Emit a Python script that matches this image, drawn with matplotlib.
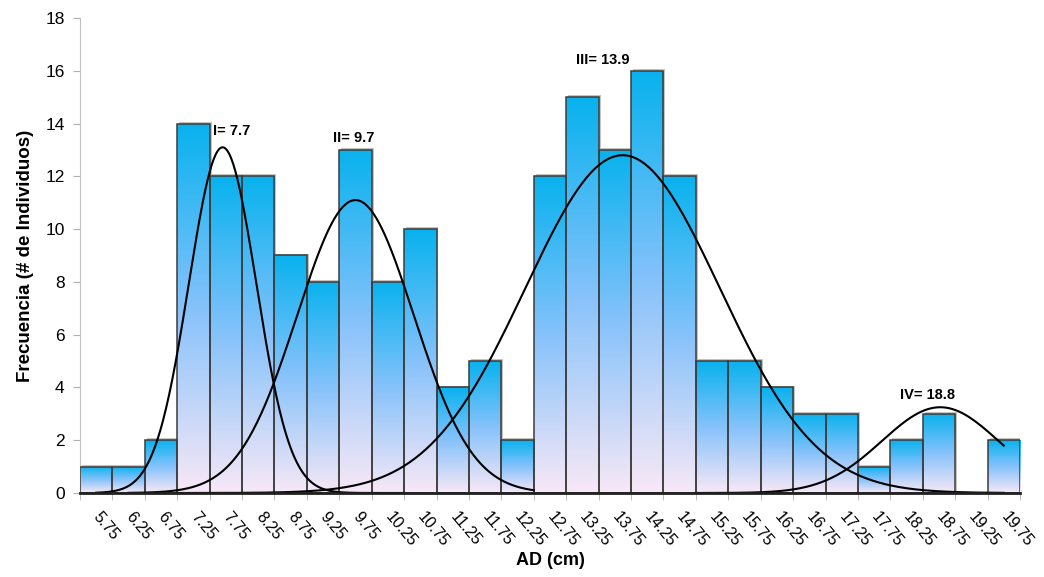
import numpy as np
import matplotlib
matplotlib.use("Agg")
import matplotlib.pyplot as plt
from matplotlib.colors import LinearSegmentedColormap
from matplotlib.patches import Rectangle

plt.rcParams["font.family"] = ["Liberation Sans", "DejaVu Sans"]

### Data ###
centers = [5.75, 6.25, 6.75, 7.25, 7.75, 8.25, 8.75, 9.25, 9.75, 10.25,
           10.75, 11.25, 11.75, 12.25, 12.75, 13.25, 13.75, 14.25, 14.75,
           15.25, 15.75, 16.25, 16.75, 17.25, 17.75, 18.25, 18.75, 19.25, 19.75]
counts = [1, 1, 2, 14, 12, 12, 9, 8, 13, 8, 10, 4, 5, 2, 12, 15, 13, 16, 12,
          5, 5, 4, 3, 3, 1, 2, 3, 0, 2]
tick_labels = ["5.75", "6.25", "6.75", "7.25", "7.75", "8.25", "8.75", "9.25",
               "9.75", "10.25", "10.75", "11.25", "11.75", "12.25", "12.75",
               "13.25", "13.75", "14.25", "14.75", "15.25", "15.75", "16.25",
               "16.75", "17.25", "17.75", "18.25", "18.75", "19.25", "19.75"]

# fitted normal components (mean, sd, peak height, x range drawn)
comp_names = ["I= 7.7", "II= 9.7", "III= 13.9", "IV= 18.8"]
comp_mean = [7.7, 9.75, 13.87, 18.77]
comp_sd = [0.52, 0.9, 1.5, 0.9]
comp_peak = [13.1, 11.1, 12.8, 3.25]
comp_start = [5.75, 6.25, 7.0, 15.0]
comp_end = [10.5, 12.5, 19.75, 19.75]
label_xy = [(7.55, 13.45), (9.4, 13.2), (13.15, 16.15), (18.15, 3.45)]

width = 0.5

#%%
fig = plt.figure(figsize=(10.44, 5.77), dpi=100)
ax = fig.add_axes([0.0766, 0.1456, 0.9004, 0.8232])

cmap = LinearSegmentedColormap.from_list(
    "bar", [(0.0, "#f8e8f6"), (0.5, "#86c2fb"), (1.0, "#08b2ee")])
grad = np.linspace(0, 1, 256).reshape(-1, 1)

for c, h in zip(centers, counts):
    if h == 0:
        continue
    x0 = c - width / 2
    # light shadow
    ax.add_patch(Rectangle((x0 + 0.03, 0), width, h + 0.07, facecolor="#c8c2bc",
                           edgecolor="none", zorder=1))
    im = ax.imshow(grad, cmap=cmap, origin="lower", aspect="auto",
                   extent=(x0, x0 + width, 0, h), zorder=2)
    rect = Rectangle((x0, 0), width, h, facecolor="none", edgecolor="#3c3c3c",
                     linewidth=1.1, zorder=3)
    ax.add_patch(rect)
    im.set_clip_path(rect)

for m, s, p, a, b in zip(comp_mean, comp_sd, comp_peak, comp_start, comp_end):
    xx = np.linspace(a, b, 300)
    ax.plot(xx, p * np.exp(-0.5 * ((xx - m) / s) ** 2), color="black",
            linewidth=1.5, zorder=4)

for name, (tx, ty) in zip(comp_names, label_xy):
    ax.text(tx, ty, name, fontsize=10.5, fontweight="bold", ha="left",
            va="bottom", zorder=5)

ax.set_xlim(5.5, 20.0)
ax.set_ylim(0, 18)
ax.set_yticks(np.arange(0, 19, 2))
ax.tick_params(axis="y", labelsize=12.5, length=5, color="#b0b0b0", pad=6)

ax.set_xticks(centers)
ax.set_xticklabels(tick_labels, rotation=-50, rotation_mode="anchor",
                   ha="left", va="center", fontsize=11.5)
ax.tick_params(axis="x", which="major", length=0, pad=15)
ax.set_xticks(np.arange(5.5, 20.01, 0.5), minor=True)
ax.tick_params(axis="x", which="minor", length=5, color="#b0b0b0")

for sp in ["top", "right"]:
    ax.spines[sp].set_visible(False)
ax.spines["left"].set_color("#c0c0c0")
ax.spines["bottom"].set_color("#202020")
ax.spines["bottom"].set_linewidth(2)
ax.spines["bottom"].set_zorder(6)

ax.set_xlabel("AD (cm)", fontsize=13, fontweight="bold", labelpad=2)
ax.set_ylabel("Frecuencia (# de Individuos)", fontsize=13.5, fontweight="bold",
              labelpad=8)

fig.savefig("out.png", dpi=100)
